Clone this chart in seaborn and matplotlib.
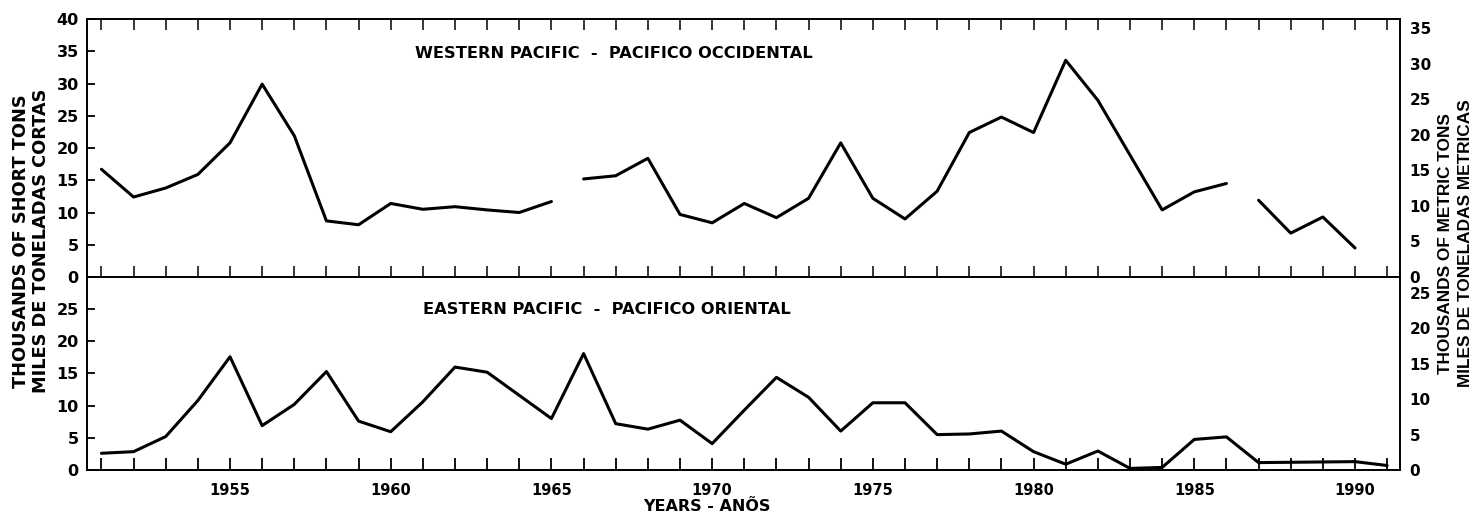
import numpy as np
import pandas as pd
import seaborn as sns
import matplotlib
matplotlib.use("Agg")
import matplotlib.pyplot as plt

# Annual catches, thousands of short tons
west_years = [1951, 1952, 1953, 1954, 1955, 1956, 1957, 1958, 1959, 1960,
              1961, 1962, 1963, 1964, 1965,
              1966, 1967, 1968, 1969, 1970, 1971, 1972, 1973, 1974, 1975,
              1976, 1977, 1978, 1979, 1980, 1981, 1982, 1983, 1984, 1985, 1986,
              1987, 1988, 1989, 1990]
west_values = [16.7, 12.4, 13.8, 15.9, 20.8, 29.9, 21.9, 8.7, 8.1, 11.4,
               10.5, 10.9, 10.4, 10.0, 11.7,
               15.2, 15.7, 18.4, 9.7, 8.4, 11.4, 9.2, 12.2, 20.8, 12.2,
               9.0, 13.3, 22.4, 24.8, 22.4, 33.6, 27.4, 18.9, 10.4, 13.2, 14.5,
               11.9, 6.8, 9.3, 4.5]
# breaks in the western series (separate line pieces)
west_segment = [1] * 15 + [2] * 21 + [3] * 4

east_years = list(range(1951, 1992))
east_values = [2.6, 2.85, 5.2, 10.8, 17.6, 6.9, 10.2, 15.3, 7.6, 5.95,
               10.6, 16.0, 15.2, 11.6, 8.0, 18.1, 7.2, 6.35, 7.75, 4.1,
               9.3, 14.4, 11.3, 6.05, 10.45, 10.45, 5.5, 5.6, 6.05, 2.85,
               0.9, 2.95, 0.25, 0.4, 4.75, 5.15, 1.15, 1.2, 1.25, 1.3,
               0.7]
east_segment = [1] * len(east_years)

west_title = "WESTERN PACIFIC  -  PACIFICO OCCIDENTAL"
east_title = "EASTERN PACIFIC  -  PACIFICO ORIENTAL"
left_label = "THOUSANDS OF SHORT TONS\nMILES DE TONELADAS CORTAS"
right_label = "THOUSANDS OF METRIC TONS\nMILES DE TONELADAS METRICAS"
x_label = "YEARS - ANÕS"

SHORT_PER_METRIC = 1.10231

west = pd.DataFrame({"year": west_years, "value": west_values, "segment": west_segment})
east = pd.DataFrame({"year": east_years, "value": east_values, "segment": east_segment})

sns.set_theme(style="ticks")
plt.rcParams["font.family"] = ["DejaVu Sans"]
plt.rcParams["font.weight"] = "bold"
plt.rcParams["text.color"] = "black"
plt.rcParams["axes.labelcolor"] = "black"
plt.rcParams["axes.linewidth"] = 1.4

fig = plt.figure(figsize=(14.74, 5.14), dpi=100)
fig.patch.set_facecolor("white")
left, right = 0.059, 0.9498
top, mid, bottom = 0.963, 0.4611, 0.0856
ax_w = fig.add_axes([left, mid, right - left, top - mid])
ax_e = fig.add_axes([left, bottom, right - left, mid - bottom])

panels = [
    (ax_w, west, 40, np.arange(0, 41, 5), np.arange(0, 36, 5), west_title, (0.25, 0.868)),
    (ax_e, east, 30, np.arange(0, 26, 5), np.arange(0, 26, 5), east_title, (0.256, 0.829)),
]

years_all = np.arange(1951, 1992)
for ax, df, ymax, lticks, rticks, title, tpos in panels:
    sns.lineplot(data=df, x="year", y="value", units="segment", estimator=None,
                 color="black", linewidth=2.2, ax=ax, legend=False)
    ax.set_xlim(1950.55, 1991.4)
    ax.set_ylim(0, ymax)
    ax.set_facecolor("white")
    ax.set_xlabel("")
    ax.set_ylabel("")
    for s in ax.spines.values():
        s.set_visible(True)
        s.set_color("black")
        s.set_linewidth(1.4)
    ax.set_yticks(np.arange(0, ymax + 0.1, 5))
    ax.set_yticklabels([str(int(v)) if v in lticks and not (ax is ax_e and v == 30) else ""
                        for v in np.arange(0, ymax + 0.1, 5)])
    ax.tick_params(axis="y", direction="in", left=True, right=True, length=6,
                   width=1.3, labelsize=11.5, pad=6, colors="black")
    ax.set_xticks(years_all)
    ax.text(tpos[0], tpos[1], title, transform=ax.transAxes, fontsize=11.7,
            fontweight="bold", va="center", ha="left", color="black")

    # metric-ton scale on the right
    tw = ax.twinx()
    tw.set_ylim(0, ymax / SHORT_PER_METRIC)
    tw.set_yticks(rticks)
    tw.set_yticklabels([str(int(v)) for v in rticks])
    tw.tick_params(axis="y", length=0, pad=7, labelsize=11, colors="black")
    for s in tw.spines.values():
        s.set_visible(False)
    tw.grid(False)

ax_w.tick_params(axis="x", direction="in", top=True, bottom=True, length=8,
                 width=1.3, labelbottom=False)
ax_e.tick_params(axis="x", direction="in", top=False, bottom=True, length=9,
                 width=1.3, labelsize=10.5, pad=9, colors="black")
ax_e.set_xticklabels([str(y) if y % 5 == 0 else "" for y in years_all])
ax_e.set_xlabel(x_label, fontsize=11.5, fontweight="bold", labelpad=-1,
                color="black")
ax_e.xaxis.set_label_coords(0.472, -0.148)

fig.text(0.021, 0.531, left_label, rotation=90, ha="center", va="center",
         fontsize=12.8, fontweight="bold", linespacing=1.15, color="black")
fig.text(0.9873, 0.527, right_label, rotation=90, ha="center", va="center",
         fontsize=12.4, fontweight="bold", linespacing=1.45, color="black",
         family=["Liberation Sans"])

fig.savefig("out.png", dpi=100, facecolor="white")
